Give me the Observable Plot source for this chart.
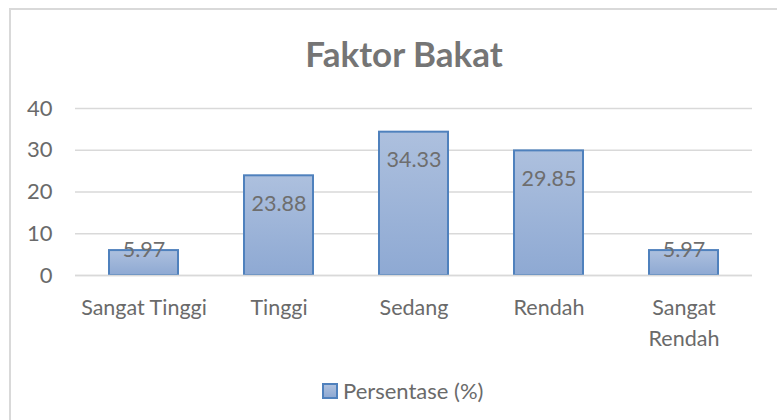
<!DOCTYPE html>
<html>
<head>
<meta charset="utf-8">
<script src="https://cdn.jsdelivr.net/npm/d3@7"></script>
<script src="https://cdn.jsdelivr.net/npm/@observablehq/plot@0.6"></script>
<style>
  html, body { margin: 0; padding: 0; background: #fff; }
  #wrap { position: relative; width: 777px; height: 420px; overflow: hidden; font-family: Lato, "Open Sans", sans-serif; }
  #frame { position: absolute; left: 9px; top: 8px; width: 800px; height: 440px; border: 2px solid #d9d9d9; box-sizing: border-box; }
  #title { position: absolute; left: 0; width: 808px; top: 31px; text-align: center; font-size: 35px; font-weight: bold; color: #757575; line-height: 44px; }
  #legend { position: absolute; left: 322px; top: 377px; font-size: 22px; color: #6a6a6a; display: flex; align-items: center; line-height: 28px; }
  #legend .sw { width: 12px; height: 12px; border: 2px solid #4f81bd; background: linear-gradient(#adc0de, #8ea9d3); margin-right: 5px; }
  #chart { position: absolute; left: 0; top: 0; }
</style>
</head>
<body>
<div id="wrap">
  <div id="frame"></div>
  <div id="chart"></div>
  <div id="title">Faktor Bakat</div>
  <div id="legend"><div class="sw"></div><span>Persentase (%)</span></div>
</div>
<script>
const categories = ["Sangat Tinggi", "Tinggi", "Sedang", "Rendah", "Sangat Rendah"];
const tickLabels = ["Sangat Tinggi", "Tinggi", "Sedang", "Rendah", "Sangat\nRendah"];
const values = [5.97, 23.88, 34.33, 29.85, 5.97];
const yTicks = [0, 10, 20, 30, 40];

const data = categories.map((c, i) => ({category: c, value: values[i], label: values[i].toFixed(2)}));

const defs = () => {
  const d = d3.create("svg:defs");
  const g = d.append("linearGradient").attr("id", "barGrad").attr("x1", 0).attr("y1", 0).attr("x2", 0).attr("y2", 1);
  g.append("stop").attr("offset", "0%").attr("stop-color", "#adc0de");
  g.append("stop").attr("offset", "100%").attr("stop-color", "#8ea9d3");
  return d.node();
};

const chart = Plot.plot({
  width: 777,
  height: 420,
  marginTop: 108,
  marginBottom: 145,
  marginLeft: 75,
  marginRight: 25,
  style: {fontFamily: "Lato, 'Open Sans', sans-serif", background: "transparent", color: "#595959"},
  x: {domain: categories, paddingInner: 0.49, paddingOuter: 0.245, label: null},
  y: {domain: [0, 40], label: null},
  marks: [
    defs,
    Plot.gridY(yTicks, {stroke: "#d9d9d9", strokeOpacity: 1, strokeWidth: 1.5}),
    Plot.axisY(yTicks, {tickSize: 0, tickPadding: 23, fontSize: 22, fill: "#6a6a6a", label: null}),
    Plot.axisX({tickSize: 0, tickPadding: 17.5, fontSize: 21.5, fill: "#6a6a6a", label: null,
      tickFormat: (d) => tickLabels[categories.indexOf(d)], lineHeight: 1.44}),
    Plot.barY(data, {x: "category", y: "value", fill: "url(#barGrad)", stroke: "#4f81bd", strokeWidth: 2}),
    Plot.text(data.filter(d => d.value >= 10), {x: "category", y: "value", text: "label", dy: 28, fontSize: 21.5, fill: "#6e6e6e"}),
    Plot.text(data.filter(d => d.value < 10), {x: "category", y: "value", text: "label", dy: 0, fontSize: 21.5, fill: "#6e6e6e"}),
    Plot.ruleY([0], {stroke: "#d9d9d9", strokeWidth: 1.5})
  ]
});
document.getElementById("chart").appendChild(chart);
</script>
</body>
</html>
